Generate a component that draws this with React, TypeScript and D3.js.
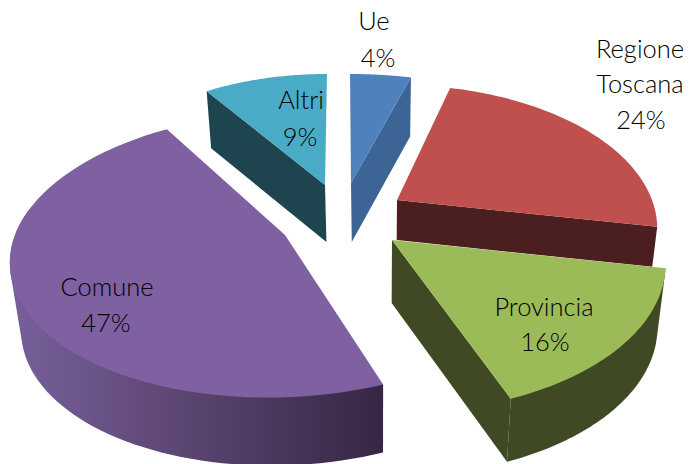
import React from "react";
import * as d3 from "d3";

const categories = ["Ue", "Regione Toscana", "Provincia", "Comune", "Altri"];
const values = [4, 24, 16, 47, 9];
const labelLines = [["Ue", "4%"], ["Regione", "Toscana", "24%"], ["Provincia", "16%"], ["Comune", "47%"], ["Altri", "9%"]];
const topColors = ["#4f81bd", "#c0504d", "#9bbb59", "#7f60a0", "#4aabc6"];
const sideColors = ["#3c6494", "#4b1f1f", "#3f4a24", "url(#comuneSide)", "#1e4450"];

// Layout of the tilted, exploded slices (projection per slice)
const geometry = [
  { ax: 351, ay: 183, rx: 245, ry: 109, p: 0, k: -1, h: 59, wall: "end", arcEnd: null },
  { ax: 397, ay: 200, rx: 255, ry: 138, p: 0.2, k: 0, h: 40, wall: "end", arcEnd: null },
  { ax: 392, ay: 240, rx: 270, ry: 147, p: 0.15, k: -3, h: 63, wall: "end", arcEnd: null },
  { ax: 285, ay: 235, rx: 270, ry: 140, p: 0.139, k: 15, h: 68, wall: "none", arcEnd: 282 },
  { ax: 325, ay: 185, rx: 224, ry: 111, p: 0, k: 2, h: 57, wall: "start", arcEnd: null },
];
const drawOrder = [4, 0, 1, 3, 2];
const labelPos = [
  { xs: [374, 378], ys: [21, 58] },
  { xs: [640, 640, 641], ys: [49, 84, 120] },
  { xs: [544, 545], ys: [307, 342] },
  { xs: [107, 106], ys: [287, 323] },
  { xs: [301, 300], ys: [100, 137] },
];
const vanishX = 380;
const convergence = 0.00045;

const pie = d3.pie<number>().sort(null).value((d) => d);
const arcs = pie(values);
const line = d3.line();

export default function App() {
  const project = (i: number, a: number): [number, number] => {
    const g = geometry[i];
    const u = Math.sin(a), v = Math.cos(a);
    const s = 1 / (1 + g.p * v);
    return [g.ax + (g.rx * u + g.k * v) * s, g.ay - g.ry * v * s];
  };
  const lower = (i: number, pt: [number, number]): [number, number] => {
    const h = geometry[i].h;
    return [vanishX + (pt[0] - vanishX) * (1 - h * convergence), pt[1] + h];
  };
  const samples = (a0: number, a1: number) => d3.range(0, 61).map((t) => a0 + ((a1 - a0) * t) / 60);

  return (
    <svg width={689} height={464} style={{ position: "absolute", left: 0, top: 0, background: "#fff" }}>
      <defs>
        <linearGradient id="comuneSide" gradientUnits="userSpaceOnUse" x1={12} x2={380} y1={0} y2={0}>
          <stop offset="0" stopColor="#77609a" />
          <stop offset="0.35" stopColor="#634c7c" />
          <stop offset="1" stopColor="#372744" />
        </linearGradient>
      </defs>
      {drawOrder.map((i) => {
        const g = geometry[i];
        const { startAngle: a0, endAngle: a1 } = arcs[i];
        const topEdge = samples(a0, a1).map((a) => project(i, a));
        const top = line([[g.ax, g.ay], ...topEdge] as [number, number][]) + "Z";
        const arcTo = g.arcEnd != null ? (g.arcEnd * Math.PI) / 180 : a1;
        const showArc = a0 > Math.PI / 3 && a0 < Math.PI * 1.5 && i !== 1;
        const outer = samples(a0, arcTo);
        const hull = showArc
          ? d3.polygonHull([...outer.map((a) => project(i, a)), ...outer.map((a) => lower(i, project(i, a)))] as [number, number][])
          : null;
        const side = hull ? line(hull as [number, number][]) + "Z" : null;
        const wallAngle = g.wall === "end" ? a1 : a0;
        const wall = g.wall === "none"
          ? null
          : line([[g.ax, g.ay], project(i, wallAngle), lower(i, project(i, wallAngle)), lower(i, [g.ax, g.ay])] as [number, number][]) + "Z";
        return (
          <g key={categories[i]}>
            {side && <path d={side} fill={sideColors[i]} />}
            {wall && <path d={wall} fill={sideColors[i]} />}
            <path d={top} fill={topColors[i]} />
          </g>
        );
      })}
      {labelLines.map((lines, i) =>
        lines.map((t, j) => (
          <text
            key={t}
            x={labelPos[i].xs[j]}
            y={labelPos[i].ys[j]}
            dy="0.35em"
            textAnchor="middle"
            fontFamily="Lato, 'Open Sans', sans-serif"
            fontSize={25.5}
            fontWeight={300}
            fill="#000"
          >
            {t}
          </text>
        ))
      )}
    </svg>
  );
}
